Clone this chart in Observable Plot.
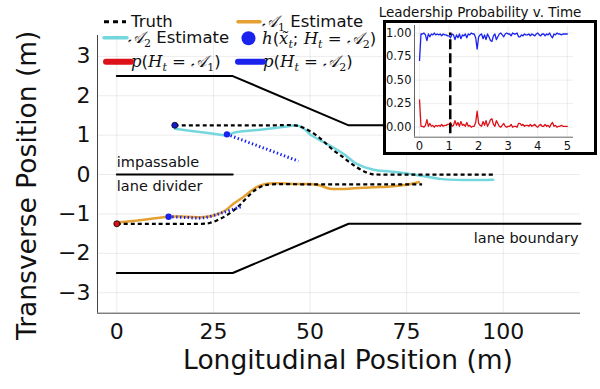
<!DOCTYPE html>
<html><head><meta charset="utf-8">
<script src="https://cdn.jsdelivr.net/npm/d3@7"></script>
<script src="https://cdn.jsdelivr.net/npm/@observablehq/plot@0.6"></script>
<style>
body{margin:0;background:#fff;font-family:"DejaVu Sans",sans-serif;}
#wrap{position:relative;width:600px;height:389px;overflow:hidden;background:#fff;}
#main{position:absolute;left:0;top:0;}
#inset{position:absolute;left:383px;top:20px;width:214px;height:135px;box-sizing:border-box;border:3px solid #000;background:#fff;}
#inset svg{display:block;}
#insetTitle{position:absolute;left:365px;width:230px;top:4px;text-align:center;font-size:13.5px;line-height:16px;color:#111;}
.leg{position:absolute;font-size:16.5px;line-height:15px;white-space:nowrap;color:#111;}
.sw{position:absolute;overflow:visible;}
.m{font-family:"DejaVu Serif",serif;font-style:italic;}
.s{font-family:"DejaVu Serif",serif;font-size:11px;position:relative;top:4px;line-height:0;}
</style></head>
<body>
<div id="wrap">
  <div id="main"></div>
  <div id="insetTitle">Leadership Probability v. Time</div>
  <div id="inset"></div>
  <div id="legend"></div>
</div>
<script>
// ---------- main chart data ----------
const xTicks = [0, 25, 50, 75, 100];
const yTicks = [-3, -2, -1, 0, 1, 2, 3];
const xDomain = [-5, 120];
const yDomain = [-3.52, 3.53];

const roadX = [0, 30, 60, 120];
const roadUpperY = [2.5, 2.5, 1.25, 1.25];
const roadLowerY = [-2.5, -2.5, -1.25, -1.25];
const dividerX = [0, 30];
const dividerY = [0, 0];

const truthA2X = [15, 20, 30, 40, 46, 48, 50, 52, 54, 56, 58, 60, 62, 64, 66, 68, 75, 85, 98];
const truthA2Y = [1.25, 1.25, 1.25, 1.25, 1.25, 1.2, 1.1, 0.97, 0.8, 0.62, 0.48, 0.33, 0.19, 0.08, 0.01, 0, 0, 0, 0];

const truthA1X = [0, 10, 22, 24, 26, 28, 30, 32, 34, 36, 38, 40, 50, 60, 70, 79];
const truthA1Y = [-1.25, -1.25, -1.25, -1.23, -1.16, -1.06, -0.93, -0.76, -0.55, -0.38, -0.28, -0.25, -0.25, -0.25, -0.25, -0.25];

const estA2X = [15.1, 19.8, 24, 28, 31.1, 37.1, 44, 46.6, 49.2, 50, 54.3, 58.6, 62.1, 66.4, 70.7, 75, 79.3, 83.6, 89.6, 97.4];
const estA2Y = [1.16, 1.1, 1.05, 1.0, 1.08, 1.14, 1.22, 1.25, 1.1, 1.02, 0.78, 0.53, 0.27, 0.12, 0.08, 0.03, -0.04, -0.11, -0.14, -0.13];

const estA1X = [0, 5, 10, 13.3, 18, 22.4, 25, 28, 30.1, 33, 36.2, 38.5, 41.4, 47, 50, 52.6, 55.2, 60, 66.4, 70, 75, 78.2];
const estA1Y = [-1.21, -1.17, -1.11, -1.07, -1.07, -1.08, -1.04, -0.92, -0.75, -0.55, -0.32, -0.24, -0.22, -0.24, -0.24, -0.28, -0.36, -0.36, -0.32, -0.31, -0.26, -0.19];

const predA2X = [28.5, 34, 40, 47];
const predA2Y = [1.02, 0.82, 0.6, 0.34];
const predA1X = [13.4, 18, 22.4, 27.6, 32.3];
const predA1Y = [-1.07, -1.09, -1.1, -0.96, -0.81];

const startDotA2 = [15, 1.25];
const startDotA1 = [0, -1.25];

// ---------- inset data ----------
const insetXTicks = [0, 1, 2, 3, 4, 5];
const insetYTicks = [0, 0.25, 0.5, 0.75, 1];
const insetStep = 0.05;
const pA1 = [
  0.29,0.01,0.01,0.00,0.02,0.08,0.01,0.04,0.01,0.02,
  0.00,0.02,0.01,0.02,0.01,0.03,0.01,0.02,0.02,0.03,
  0.03,0.05,0.01,0.02,0.07,0.02,0.05,0.01,0.06,0.02,
  0.03,0.01,0.05,0.01,0.02,0.00,0.01,0.01,0.05,0.17,
  0.04,0.02,0.01,0.06,0.02,0.07,0.01,0.04,0.08,0.09,
  0.03,0.01,0.07,0.04,0.01,0.00,0.02,0.04,0.01,0.00,
  0.01,0.01,0.03,0.00,0.01,0.01,0.00,0.04,0.04,0.02,
  0.03,0.01,0.02,0.02,0.01,0.03,0.01,0.02,0.03,0.01,
  0.00,0.02,0.03,0.01,0.01,0.03,0.01,0.02,0.00,0.03,
  0.05,0.01,0.02,0.00,0.01,0.01,0.02,0.01,0.01,0.01,
  0.01];
const pA2 = [
  0.71,0.99,0.99,1.00,0.98,0.92,0.99,0.96,0.99,0.98,
  1.00,0.98,0.99,0.98,0.99,0.97,0.99,0.98,0.98,0.97,
  0.97,0.95,0.99,0.98,0.93,0.98,0.95,0.99,0.94,0.98,
  0.97,0.99,0.95,0.99,0.98,1.00,0.99,0.99,0.95,0.83,
  0.96,0.98,0.99,0.94,0.98,0.93,0.99,0.96,0.92,0.91,
  0.97,0.99,0.93,0.96,0.99,1.00,0.98,0.96,0.99,1.00,
  0.99,0.99,0.97,1.00,0.99,0.99,1.00,0.96,0.96,0.98,
  0.97,0.99,0.98,0.98,0.99,0.97,0.99,0.98,0.97,0.99,
  1.00,0.98,0.97,0.99,0.99,0.97,0.99,0.98,1.00,0.97,
  0.95,0.99,0.98,1.00,0.99,0.99,0.98,0.99,0.99,0.99,
  0.99];
const switchTime = 1.04;
const insetXDomain = [-0.17, 5.21];
const insetYDomain = [-0.106, 1.08];

// ---------- colors ----------
const cOrange = "#e5a032", cCyan = "#74d7de", cBlue = "#1a22ee", cRed = "#dd1118", cDot = "#1020d0";

const zip = (xs, ys) => xs.map((x, i) => ({x, y: ys[i]}));
const fmt = d3.format("d");

const main = Plot.plot({
  width: 600, height: 389,
  marginLeft: 97, marginRight: 20, marginTop: 35, marginBottom: 76.3,
  x: {domain: xDomain}, y: {domain: yDomain},
  style: {fontFamily: "DejaVu Sans", background: "transparent", color: "#111"},
  marks: [
    Plot.gridX(xTicks, {stroke: "#000", strokeOpacity: 0.08}),
    Plot.gridY(yTicks, {stroke: "#000", strokeOpacity: 0.08}),
    Plot.ruleX([xDomain[0]], {stroke: "#444", strokeWidth: 1}),
    Plot.ruleY([yDomain[0]], {stroke: "#444", strokeWidth: 1}),
    Plot.axisX(xTicks, {tickSize: 0, tickPadding: 10, fontSize: 22, label: null, tickFormat: fmt}),
    Plot.axisY(yTicks, {tickSize: 0, tickPadding: 7, fontSize: 22, label: null, tickFormat: fmt}),
    Plot.line(zip(roadX, roadUpperY), {x: "x", y: "y", stroke: "#000", strokeWidth: 2}),
    Plot.line(zip(roadX, roadLowerY), {x: "x", y: "y", stroke: "#000", strokeWidth: 2}),
    Plot.line(zip(dividerX, dividerY), {x: "x", y: "y", stroke: "#000", strokeWidth: 2}),
    Plot.text(["impassable"], {x: dividerX[0], y: 0.3, textAnchor: "start", fontSize: 14.5, fill: "#111"}),
    Plot.text(["lane divider"], {x: dividerX[0], y: -0.29, textAnchor: "start", fontSize: 14.5, fill: "#111"}),
    Plot.text(["lane boundary"], {x: roadX[roadX.length - 1], y: -1.63, dx: -2, textAnchor: "end", fontSize: 14.5, fill: "#111"}),
    Plot.line(zip(estA2X, estA2Y), {x: "x", y: "y", stroke: cCyan, strokeWidth: 2.5, curve: "catmull-rom"}),
    Plot.line(zip(estA1X, estA1Y), {x: "x", y: "y", stroke: cOrange, strokeWidth: 2.5, curve: "catmull-rom"}),
    Plot.line(zip(truthA2X, truthA2Y), {x: "x", y: "y", stroke: "#000", strokeWidth: 2.2, strokeDasharray: "4,3", strokeLinecap: "butt", curve: "catmull-rom"}),
    Plot.line(zip(truthA1X, truthA1Y), {x: "x", y: "y", stroke: "#000", strokeWidth: 2.2, strokeDasharray: "4,3", strokeLinecap: "butt", curve: "catmull-rom"}),
    Plot.line(zip(predA2X, predA2Y), {x: "x", y: "y", stroke: cBlue, strokeWidth: 3, strokeDasharray: "1.4,2.4", strokeLinecap: "butt"}),
    Plot.line(zip(predA1X, predA1Y), {x: "x", y: "y", stroke: cBlue, strokeWidth: 3, strokeDasharray: "1.4,2.4", strokeLinecap: "butt", curve: "catmull-rom"}),
    Plot.dot([predA2X[0], predA1X[0]].map((x, i) => ({x, y: [predA2Y[0], predA1Y[0]][i]})), {x: "x", y: "y", r: 3.2, fill: cBlue}),
    Plot.dot([{x: startDotA2[0], y: startDotA2[1]}], {x: "x", y: "y", r: 3, fill: cDot, stroke: "#000", strokeWidth: 0.8}),
    Plot.dot([{x: startDotA1[0], y: startDotA1[1]}], {x: "x", y: "y", r: 3, fill: cRed, stroke: "#000", strokeWidth: 0.8}),
    Plot.text(["Longitudinal Position (m)"], {frameAnchor: "bottom", dy: 47, dx: 9, fontSize: 26.5, lineAnchor: "middle", textAnchor: "middle", fill: "#111"}),
    Plot.text(["Transverse Position (m)"], {frameAnchor: "left", rotate: -90, dx: -70, dy: 11, fontSize: 26.5, lineAnchor: "middle", textAnchor: "middle", fill: "#111"})
  ]
});
document.getElementById("main").appendChild(main);

const insetData = pA1.map((v, i) => ({t: i * insetStep, a1: v, a2: pA2[i]}));
const inset = Plot.plot({
  width: 208, height: 129,
  marginLeft: 28, marginRight: 21, marginTop: 2, marginBottom: 15.3,
  x: {domain: insetXDomain}, y: {domain: insetYDomain},
  style: {fontFamily: "DejaVu Sans", background: "transparent", color: "#111"},
  marks: [
    Plot.gridX(insetXTicks, {stroke: "#000", strokeOpacity: 0.07}),
    Plot.gridY(insetYTicks, {stroke: "#000", strokeOpacity: 0.07}),
    Plot.ruleX([insetXDomain[0]], {stroke: "#666", strokeWidth: 1}),
    Plot.ruleY([insetYDomain[0]], {stroke: "#666", strokeWidth: 1}),
    Plot.axisX(insetXTicks, {tickSize: 0, tickPadding: 5, fontSize: 11.5, label: null, tickFormat: fmt}),
    Plot.axisY(insetYTicks, {tickSize: 0, tickPadding: 3, fontSize: 11.5, label: null, tickFormat: d3.format(".2f")}),
    Plot.line(insetData, {x: "t", y: "a2", stroke: cBlue, strokeWidth: 1.3}),
    Plot.line(insetData, {x: "t", y: "a1", stroke: cRed, strokeWidth: 1.3}),
    Plot.ruleX([switchTime], {y1: -0.07, y2: 1.0, stroke: "#000", strokeWidth: 2.5, strokeDasharray: "10,4"})
  ]
});
document.getElementById("inset").appendChild(inset);

// ---------- legend ----------
const A = "\u{1D49C}";
const legendItems = [
  {kind: "dash", color: "#000", x1: 104, x2: 126, y: 21.7, w: 3, tx: 131, html: "Truth"},
  {kind: "line", color: cOrange, x1: 238, x2: 260, y: 21.7, w: 3.5, tx: 262, html: `<span class="m">${A}</span><span class="s">1</span> Estimate`},
  {kind: "line", color: cCyan, x1: 104, x2: 127, y: 37.7, w: 3.5, tx: 128, html: `<span class="m">${A}</span><span class="s">2</span> Estimate`},
  {kind: "dot", color: cBlue, x1: 248.5, x2: 248.5, y: 38.3, w: 7, tx: 262, html: `<span class="m">h</span>(<span class="m">x̃</span><span class="s m">t</span>; <span class="m">H</span><span class="s m">t</span> = <span class="m">${A}</span><span class="s">2</span>)`},
  {kind: "line", color: cRed, x1: 106, x2: 131, y: 61.7, w: 6, tx: 131, html: `<span class="m">p</span>(<span class="m">H</span><span class="s m">t</span> = <span class="m">${A}</span><span class="s">1</span>)`},
  {kind: "line", color: cBlue, x1: 238, x2: 263, y: 61.7, w: 6, tx: 263, html: `<span class="m">p</span>(<span class="m">H</span><span class="s m">t</span> = <span class="m">${A}</span><span class="s">2</span>)`}
];
const leg = document.getElementById("legend");
const NS = "http://www.w3.org/2000/svg";
const sw = document.createElementNS(NS, "svg");
sw.setAttribute("width", 600); sw.setAttribute("height", 80);
sw.setAttribute("class", "sw"); sw.style.left = "0px"; sw.style.top = "0px";
legendItems.forEach(it => {
  let el;
  if (it.kind === "dot") {
    el = document.createElementNS(NS, "circle");
    el.setAttribute("cx", it.x1); el.setAttribute("cy", it.y); el.setAttribute("r", it.w);
    el.setAttribute("fill", it.color);
  } else {
    el = document.createElementNS(NS, "line");
    el.setAttribute("x1", it.x1); el.setAttribute("x2", it.x2);
    el.setAttribute("y1", it.y); el.setAttribute("y2", it.y);
    el.setAttribute("stroke", it.color); el.setAttribute("stroke-width", it.w);
    el.setAttribute("stroke-linecap", "round");
    if (it.kind === "dash") { el.setAttribute("stroke-dasharray", "5,4"); el.setAttribute("stroke-linecap", "butt"); }
  }
  sw.appendChild(el);
  const d = document.createElement("div");
  d.className = "leg";
  d.style.left = it.tx + "px";
  d.style.top = (it.y - 7.5) + "px";
  d.innerHTML = it.html;
  leg.appendChild(d);
});
leg.appendChild(sw);
</script>
</body></html>
